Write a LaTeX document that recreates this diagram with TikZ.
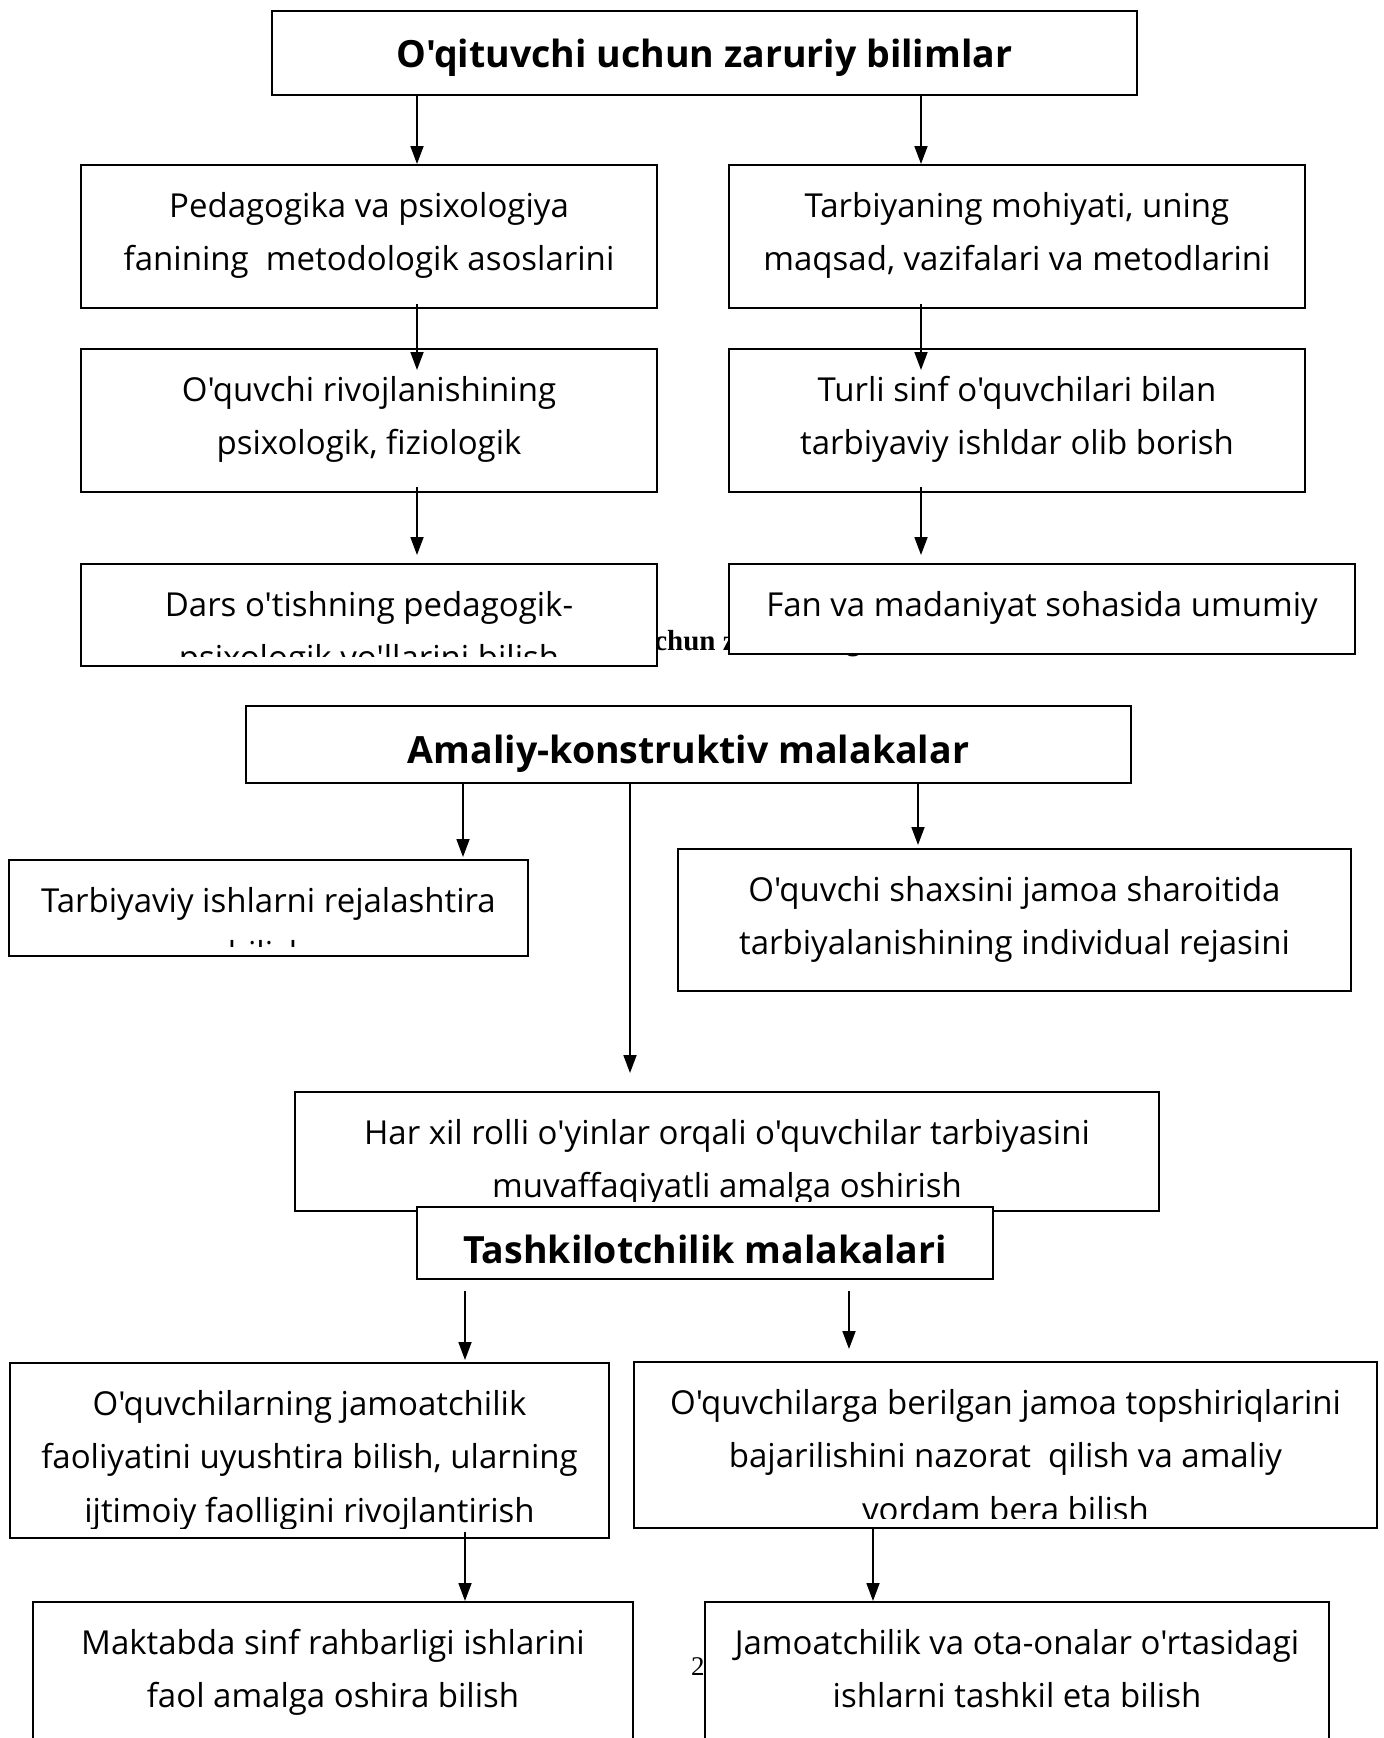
\documentclass[tikz,border=0pt]{standalone}
\usepackage{fontspec}
\newfontfamily\opensans{Open Sans}
\newfontfamily\oldserif{Liberation Serif}
\usetikzlibrary{arrows.meta}

\begin{document}
\begin{tikzpicture}[x=1pt, y=-1pt,
      box/.style={rectangle, draw, line width=2pt, fill=white, inner sep=0pt, anchor=north west},
      head/.style={box, font=\opensans\fontsize{37.5}{46}\selectfont\bfseries, text depth=0pt},
      say/.style={path picture={
          \clip ([xshift=3pt,yshift=-3pt]path picture bounding box.north west) rectangle ([xshift=-3pt,yshift=10pt]path picture bounding box.south east);
          \node[anchor=north, inner sep=0pt, minimum width=0pt, minimum height=0pt, align=center, font=\opensans\fontsize{33}{53.5}\selectfont] at ([yshift=-26pt]path picture bounding box.north) {#1};}},
      arr/.style={-{Triangle[length=18pt, width=13pt]}, line width=1.8pt},
      stray/.style={inner sep=0pt, anchor=base west}]

  \useasboundingbox (0,0) rectangle (1384,1738);

  % Page text behind the boxes
  \node[stray, font=\oldserif\fontsize{29}{34}\selectfont\bfseries] (capt) at (638,650) {uchun zarur bo'lgan};
  \node[stray, font=\oldserif\fontsize{27}{32}\selectfont] (pnum) at (691,1675) {2};

  % Knowledge
  \node[head, minimum width=865pt, minimum height=84pt, text height=29pt] (know) at (271,10) {O'qituvchi uchun zaruriy bilimlar};
  \node[box, minimum width=576pt, minimum height=143pt, say={Pedagogika va psixologiya\\fanining\ \ metodologik asoslarini}] (pl1) at (80,164) {};
  \node[box, minimum width=576pt, minimum height=143pt, say={Tarbiyaning mohiyati, uning\\maqsad, vazifalari va metodlarini}] (pr1) at (728,164) {};
  \node[box, minimum width=576pt, minimum height=143pt, say={O'quvchi rivojlanishining\\psixologik, fiziologik}] (pl2) at (80,348) {};
  \node[box, minimum width=576pt, minimum height=143pt, say={Turli sinf o'quvchilari bilan\\tarbiyaviy ishldar olib borish}] (pr2) at (728,348) {};
  \node[box, minimum width=576pt, minimum height=102pt, say={Dars o'tishning pedagogik-\\psixologik yo'llarini bilish}] (pl3) at (80,563) {};
  \node[box, minimum width=626pt, minimum height=90pt, say={Fan va madaniyat sohasida umumiy}] (pr3) at (728,563) {};

  % Practical skills
  \node[head, minimum width=885pt, minimum height=77pt, text height=38pt] (prac) at (245,705) {Amaliy-konstruktiv malakalar};
  \node[box, minimum width=519pt, minimum height=96pt, say={Tarbiyaviy ishlarni rejalashtira\\bilish}] (pa1) at (8,859) {};
  \node[box, minimum width=673pt, minimum height=142pt, say={O'quvchi shaxsini jamoa sharoitida\\tarbiyalanishining individual rejasini}] (pa2) at (677,848) {};
  \node[box, minimum width=864pt, minimum height=119pt, say={Har xil rolli o'yinlar orqali o'quvchilar tarbiyasini\\muvaffaqiyatli amalga oshirish}] (pa3) at (294,1091) {};

  % Organising skills
  \node[head, minimum width=576pt, minimum height=72pt, text height=41pt] (org) at (416,1206) {Tashkilotchilik malakalari};
  \node[box, minimum width=599pt, minimum height=175pt, say={O'quvchilarning jamoatchilik\\faoliyatini uyushtira bilish, ularning\\ijtimoiy faolligini rivojlantirish}] (ol1) at (9,1362) {};
  \node[box, minimum width=743pt, minimum height=166pt, say={O'quvchilarga berilgan jamoa topshiriqlarini\\bajarilishini nazorat\ \ qilish va amaliy\\yordam bera bilish}] (or1) at (633,1361) {};
  \node[box, minimum width=600pt, minimum height=170pt, say={Maktabda sinf rahbarligi ishlarini\\faol amalga oshira bilish}] (ol2) at (32,1601) {};
  \node[box, minimum width=624pt, minimum height=170pt, say={Jamoatchilik va ota-onalar o'rtasidagi\\ishlarni tashkil eta bilish}] (or2) at (704,1601) {};

  % Arrows
  \draw[arr] ([xshift=-287.5pt]know.south) -- ([xshift=48pt]pl1.north);
  \draw[arr] ([xshift=216.5pt]know.south) -- ([xshift=-96pt]pr1.north);
  \draw[arr] ([xshift=48pt,yshift=5pt]pl1.south) -- ([xshift=48pt,yshift=-22pt]pl2.north);
  \draw[arr] ([xshift=-96pt,yshift=5pt]pr1.south) -- ([xshift=-96pt,yshift=-22pt]pr2.north);
  \draw[arr] ([xshift=48pt,yshift=6pt]pl2.south) -- ([xshift=48pt,yshift=8pt]pl3.north);
  \draw[arr] ([xshift=-96pt,yshift=6pt]pr2.south) -- ([xshift=-121pt,yshift=8pt]pr3.north);

  \draw[arr] ([xshift=-225.5pt]prac.south) -- ([xshift=194.5pt,yshift=2pt]pa1.north);
  \draw[arr] ([xshift=-58.5pt]prac.south) -- ([xshift=-97pt,yshift=18pt]pa3.north);
  \draw[arr] ([xshift=229.5pt]prac.south) -- ([xshift=-96.5pt,yshift=3pt]pa2.north);

  \draw[arr] ([xshift=-240pt,yshift=-11pt]org.south) -- ([xshift=155.5pt,yshift=2pt]ol1.north);
  \draw[arr] ([xshift=144pt,yshift=-11pt]org.south) -- ([xshift=-156.5pt,yshift=12pt]or1.north);
  \draw[arr] ([xshift=155.5pt,yshift=7pt]ol1.south) -- ([xshift=132pt]ol2.north);
  \draw[arr] ([xshift=-132.5pt]or1.south) -- ([xshift=-144pt]or2.north);
\end{tikzpicture}
\end{document}
